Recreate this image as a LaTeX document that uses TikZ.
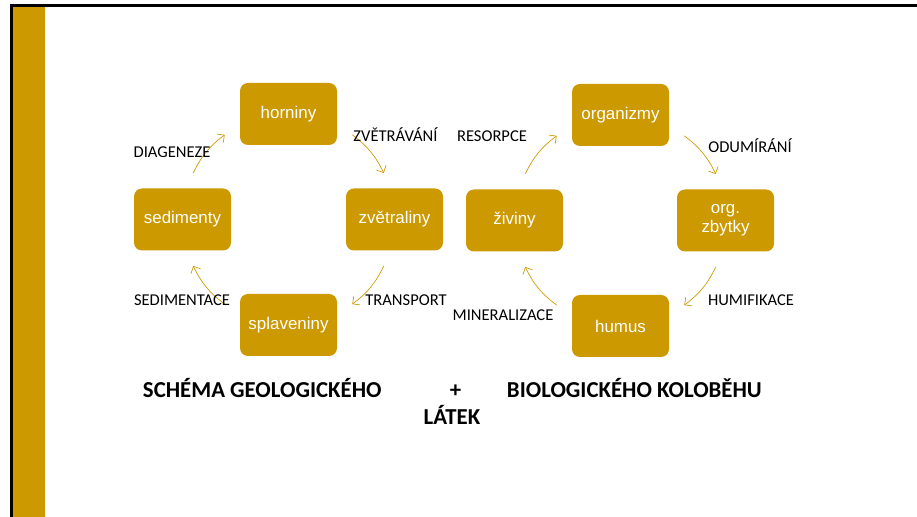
\documentclass[tikz,border=0pt]{standalone}
\usepackage{fontspec}
\setmainfont{Carlito}
\newfontfamily\boxfont{Liberation Sans}
\usetikzlibrary{arrows.meta,calc}
\definecolor{gold}{HTML}{CC9900}
\begin{document}
\begin{tikzpicture}[x=0.75pt,y=0.75pt,
  stage/.style={fill=gold, rounded corners=6pt, minimum width=72.75pt,
    minimum height=46.5pt, inner sep=2pt, text=white, align=center,
    font=\boxfont\fontsize{12.7}{14.5}\selectfont},
  flow/.style={draw=gold, line width=0.5pt,
    -{Straight Barb[length=4pt,width=8pt,line width=0.5pt]}},
  proc/.style={anchor=base, text=black, inner sep=0pt,
    font=\fontsize{12.4}{14}\selectfont},
  heading/.style={anchor=base west, text=black, inner sep=0pt,
    font=\bfseries\fontsize{17.1}{19}\selectfont}]
  % page area
  \useasboundingbox (0,0) rectangle (917,517);
  \fill[white] (0,0) rectangle (917,517);
  % slide frame and side band
  \fill[black!8] (10,512.5) rectangle (917,513.2);
  \fill[black] (10,510) rectangle (917,512.5);
  \fill[black] (10,0) rectangle (12.7,512.5);
  \fill[gold] (12.7,0) rectangle (45,510);

  % geological cycle
  \coordinate (cL) at (288.5,297.5);
  \node[stage] (horniny) at (288.5,403) {horniny};
  \node[stage] (zvetraliny) at (394.5,297.5) {zvětraliny};
  \node[stage] (sedimenty) at (182.5,297.5) {sedimenty};
  \node[stage] (splaveniny) at (288.5,192) {splaveniny};

  % biological cycle
  \coordinate (cR) at (620.5,296.5);
  \node[stage] (organizmy) at (620.5,402) {organizmy};
  \node[stage] (zbytky) at (725.5,296.5) {org.\\zbytky};
  \node[stage] (ziviny) at (514.5,296.5) {živiny};
  \node[stage] (humus) at (620.5,191) {humus};

  % arc end points on a circle round each cycle centre
  \foreach \c in {L,R}{
    \coordinate (a1\c) at ($(c\c)+(154:106)$);
    \coordinate (b1\c) at ($(c\c)+(127:106)$);
    \coordinate (a2\c) at ($(c\c)+(53:106)$);
    \coordinate (b2\c) at ($(c\c)+(26:106)$);
    \coordinate (a3\c) at ($(c\c)+(-26:106)$);
    \coordinate (b3\c) at ($(c\c)+(-53:106)$);
    \coordinate (a4\c) at ($(c\c)+(-127:106)$);
    \coordinate (b4\c) at ($(c\c)+(-154:106)$);
    \foreach \i in {1,2,3,4}
      \draw[flow] (a\i\c) to[bend left=13.5] (b\i\c);
  }

  % process labels
  \node[proc] (diag) at (172,359) {DIAGENEZE};
  \node[proc] (zvet) at (395.5,375) {ZVĚTRÁVÁNÍ};
  \node[proc] (sedim) at (182,211) {SEDIMENTACE};
  \node[proc] (trans) at (406,211) {TRANSPORT};
  \node[proc] (resor) at (492,375) {RESORPCE};
  \node[proc] (odum) at (750,364) {ODUMÍRÁNÍ};
  \node[proc] (humif) at (751,211) {HUMIFIKACE};
  \node[proc] (miner) at (503,196) {MINERALIZACE};

  % caption
  \node[heading] (t1) at (142.7,119.5) {SCHÉMA GEOLOGICKÉHO};
  \node[heading, anchor=base] (t2) at (455.5,119.5) {+};
  \node[heading] (t3) at (506.7,119.5) {BIOLOGICKÉHO KOLOBĚHU};
  \node[heading, anchor=base] (t4) at (452,92) {LÁTEK};
\end{tikzpicture}
\end{document}
